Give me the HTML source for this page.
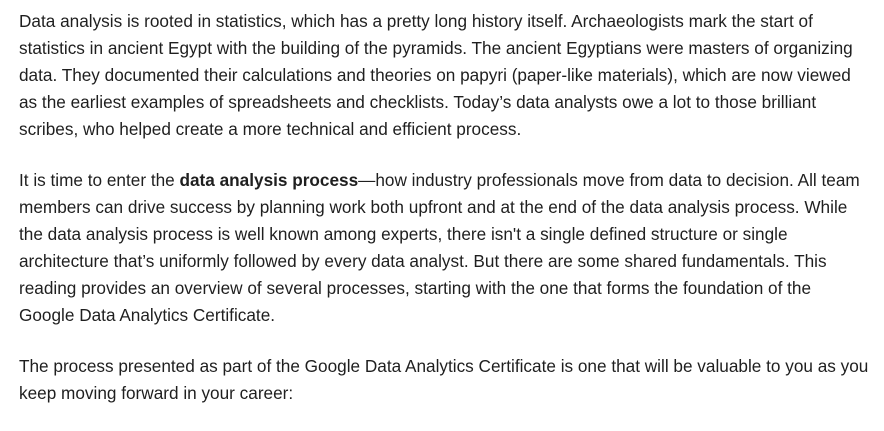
<!DOCTYPE html>
<html><head><meta charset="utf-8">
<style>
html,body{margin:0;padding:0;background:#fff;width:884px;height:415px;overflow:hidden}
.wrap{position:absolute;left:19px;top:8px;font-family:"Liberation Sans",sans-serif;font-size:17.2px;line-height:27px;color:#1f1f1f;letter-spacing:0}
p{margin:0 0 24px 0}
.l{display:block;white-space:nowrap}
b{font-weight:bold}
</style></head>
<body>
<div class="wrap">
<p>
<span class="l">Data analysis is rooted in statistics, which has a pretty long history itself. Archaeologists mark the start of</span>
<span class="l">statistics in ancient Egypt with the building of the pyramids. The ancient Egyptians were masters of organizing</span>
<span class="l">data. They documented their calculations and theories on papyri (paper-like materials), which are now viewed</span>
<span class="l">as the earliest examples of spreadsheets and checklists. Today’s data analysts owe a lot to those brilliant</span>
<span class="l">scribes, who helped create a more technical and efficient process.</span>
</p>
<p>
<span class="l">It is time to enter the <b>data analysis process</b>—how industry professionals move from data to decision. All team</span>
<span class="l">members can drive success by planning work both upfront and at the end of the data analysis process. While</span>
<span class="l">the data analysis process is well known among experts, there isn't a single defined structure or single</span>
<span class="l">architecture that’s uniformly followed by every data analyst. But there are some shared fundamentals. This</span>
<span class="l">reading provides an overview of several processes, starting with the one that forms the foundation of the</span>
<span class="l">Google Data Analytics Certificate.</span>
</p>
<p>
<span class="l">The process presented as part of the Google Data Analytics Certificate is one that will be valuable to you as you</span>
<span class="l">keep moving forward in your career:</span>
</p>
</div>
</body></html>
